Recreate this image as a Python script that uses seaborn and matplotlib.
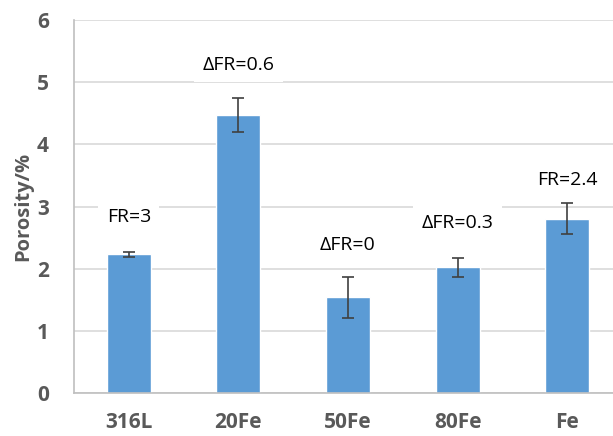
import matplotlib
matplotlib.use("Agg")
import matplotlib.pyplot as plt
import seaborn as sns
import pandas as pd

# Porosity data
samples = ["316L", "20Fe", "50Fe", "80Fe", "Fe"]
porosity = [2.23, 4.47, 1.54, 2.02, 2.80]
errors = [0.04, 0.27, 0.33, 0.15, 0.25]
labels = ["FR=3", "ΔFR=0.6", "ΔFR=0", "ΔFR=0.3", "FR=2.4"]
label_y = [2.83, 5.28, 2.38, 2.74, 3.42]

df = pd.DataFrame({"sample": samples, "porosity": porosity})

sns.set_style("white")
plt.rcParams["font.family"] = ["Open Sans", "DejaVu Sans"]

fig = plt.figure(figsize=(6.13, 4.36), dpi=100)
ax = fig.add_axes([74 / 613, 1 - 393 / 436, 548 / 613, 373 / 436])

sns.barplot(data=df, x="sample", y="porosity", color="#5B9BD5", width=0.4,
            saturation=1, ax=ax, zorder=2)
ax.errorbar(range(len(samples)), porosity, yerr=errors, fmt="none",
            ecolor="#404040", elinewidth=1.2, capsize=4, capthick=1.2, zorder=3)

for i, (txt, yy) in enumerate(zip(labels, label_y)):
    ax.text(i, yy, txt, ha="center", va="center", fontsize=14, color="black",
            zorder=4, bbox=dict(facecolor="white", edgecolor="none", pad=6))

ax.set_ylim(0, 6)
ax.set_xlim(-0.5, 4.5)
ax.set_yticks(range(0, 7))
ax.yaxis.grid(True, color="#D9D9D9", linewidth=1.2, zorder=0)
ax.set_axisbelow(True)

for s in ["top", "right"]:
    ax.spines[s].set_visible(False)
ax.spines["left"].set_color("#BFBFBF")
ax.spines["bottom"].set_color("#BFBFBF")
ax.spines["left"].set_linewidth(1.2)
ax.spines["bottom"].set_linewidth(1.2)

ax.tick_params(axis="both", length=0, labelsize=15, labelcolor="#595959")
ax.tick_params(axis="x", pad=14)
ax.tick_params(axis="y", pad=18)
for lab in ax.get_xticklabels() + ax.get_yticklabels():
    lab.set_fontweight("bold")

# small category separators on the x axis
ax.set_xticks([0.5, 1.5, 2.5, 3.5], minor=True)
ax.tick_params(axis="x", which="minor", direction="in", length=8,
               color="#BFBFBF", width=1.2)

ax.set_xlabel("")
ax.set_ylabel("Porosity/%", fontsize=14.5, fontweight="bold", color="#595959",
              labelpad=3)

fig.savefig("out.png", dpi=100)
